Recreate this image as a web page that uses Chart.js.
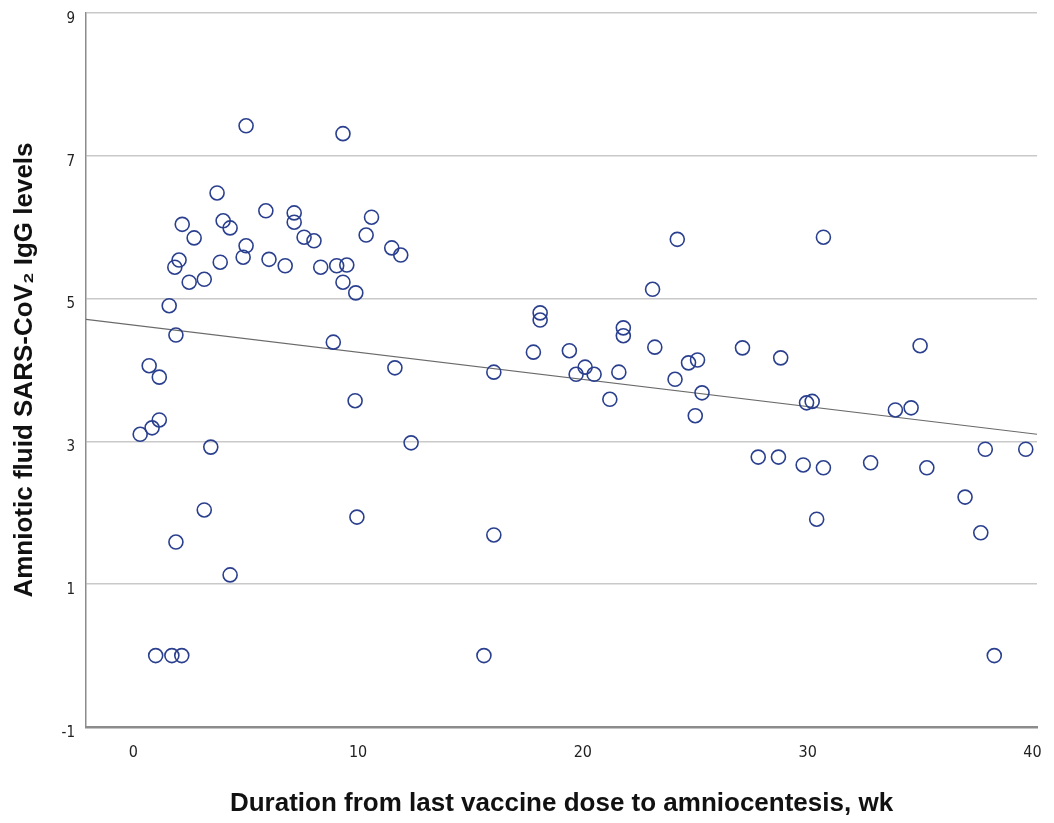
<!DOCTYPE html>
<html>
<head>
<meta charset="utf-8">
<script src="https://cdn.jsdelivr.net/npm/chart.js@4.4.1/dist/chart.umd.min.js"></script>
<style>
  html, body { margin: 0; padding: 0; background: #fff; }
  #grafico { display: block; }
</style>
</head>
<body>
<canvas id="grafico" width="1054" height="823"></canvas>
<script>
// weeks since last dose
const semanas = [
  5.02, 9.33, 3.73, 5.9, 7.16, 7.16, 2.18, 4.0, 4.31, 2.71,
  7.6, 8.04, 5.02, 4.89, 2.04, 1.85, 3.87, 6.04, 6.76, 8.34,
  9.05, 9.5, 2.49, 3.16, 9.33, 9.9, 10.36, 1.6, 1.9, 8.9,
  0.71, 1.16, 9.87, 1.16, 0.84, 0.31, 3.45, 3.16, 1.9, 9.95,
  4.31, 1.0, 1.72, 2.16, 10.6, 11.5, 11.9, 24.2, 23.1, 18.1,
  18.1, 21.8, 21.8, 23.2, 17.8, 19.4, 11.64, 16.04, 20.1, 19.7,
  20.5, 21.6, 24.7, 25.1, 24.1, 25.3, 21.2, 25.0, 12.36, 16.04,
  15.6, 27.1, 28.8, 35.0, 29.95, 30.2, 33.9, 34.6, 27.8, 28.7,
  29.8, 30.7, 32.8, 35.3, 37.9, 39.7, 37.0, 30.4, 37.7, 30.7,
  38.3
];
// IgG levels
const niveis = [
  7.42, 7.31, 6.48, 6.23, 6.20, 6.07, 6.04, 6.09, 5.99, 5.85,
  5.86, 5.81, 5.74, 5.58, 5.54, 5.44, 5.51, 5.55, 5.46, 5.44,
  5.46, 5.47, 5.23, 5.27, 5.23, 5.08, 5.89, 4.90, 4.49, 4.39,
  4.06, 3.90, 3.57, 3.30, 3.19, 3.10, 2.92, 2.04, 1.59, 1.94,
  1.13, 0, 0, 0, 6.14, 5.71, 5.61, 5.83, 5.13, 4.80,
  4.70, 4.59, 4.48, 4.32, 4.25, 4.27, 4.03, 3.97, 4.04, 3.94,
  3.94, 3.97, 4.10, 4.14, 3.87, 3.68, 3.59, 3.36, 2.98, 1.69,
  0, 4.31, 4.17, 4.34, 3.54, 3.56, 3.44, 3.47, 2.78, 2.78,
  2.67, 2.63, 2.70, 2.63, 2.89, 2.89, 2.22, 1.91, 1.72, 5.86,
  0
];
// fit line ends
const retaX = [-2.1, 40.2];
const retaY = [4.71, 3.10];

const ticksX = [0, 10, 20, 30, 40];
const ticksY = [-1, 1, 3, 5, 7, 9];

const pontos = semanas.map((x, i) => ({ x: x, y: niveis[i] }));
const reta = retaX.map((x, i) => ({ x: x, y: retaY[i] }));

const fonteEixo = { family: "'Liberation Sans', Arial, sans-serif", size: 26, weight: "bold" };
const fonteTickX = { family: "'DejaVu Sans Condensed', 'DejaVu Sans', sans-serif", size: 16 };
const fonteTickY = { family: "'DejaVu Sans Condensed', 'DejaVu Sans', sans-serif", size: 15 };

new Chart(document.getElementById("grafico"), {
  type: "scatter",
  data: {
    datasets: [
      {
        data: pontos,
        pointStyle: "circle",
        pointRadius: 7,
        pointHoverRadius: 7,
        borderWidth: 1.6,
        borderColor: "#2a3f8e",
        backgroundColor: "rgba(0,0,0,0)"
      },
      {
        type: "line",
        data: reta,
        borderColor: "#6a6a6a",
        borderWidth: 1.2,
        pointRadius: 0,
        fill: false
      }
    ]
  },
  options: {
    responsive: false,
    animation: false,
    layout: { padding: { left: 0, right: 17, top: 13, bottom: 0 } },
    plugins: { legend: { display: false }, tooltip: { enabled: false } },
    scales: {
      x: {
        type: "linear",
        min: -2.1,
        max: 40.2,
        afterBuildTicks: s => { s.ticks = ticksX.map(v => ({ value: v })); },
        afterFit: s => { s.height = 96; s.paddingLeft = 0; s.paddingRight = 0; },
        grid: { display: false, drawTicks: false },
        border: { display: true, color: "#8c8c8c", width: 2.5 },
        ticks: { color: "#222", font: fonteTickX, padding: 16 },
        title: {
          display: true,
          text: "Duration from last vaccine dose to amniocentesis, wk",
          color: "#111",
          font: fonteEixo,
          padding: { top: 0, bottom: 4 }
        }
      },
      y: {
        type: "linear",
        min: -1,
        max: 9,
        afterBuildTicks: s => { s.ticks = ticksY.map(v => ({ value: v })); },
        afterFit: s => { s.width = 86; s.paddingTop = 0; s.paddingBottom = 0; },
        grid: { color: "#c9c9c9", lineWidth: 1.5, drawTicks: false },
        border: { display: true, color: "#8c8c8c", width: 1.5 },
        ticks: { color: "#222", font: fonteTickY, padding: 11, labelOffset: 6 },
        title: {
          display: true,
          text: "Amniotic fluid SARS-CoV\u2082 IgG levels",
          color: "#111",
          font: fonteEixo,
          padding: { top: 9, bottom: 0 }
        }
      }
    }
  }
});
</script>
</body>
</html>
